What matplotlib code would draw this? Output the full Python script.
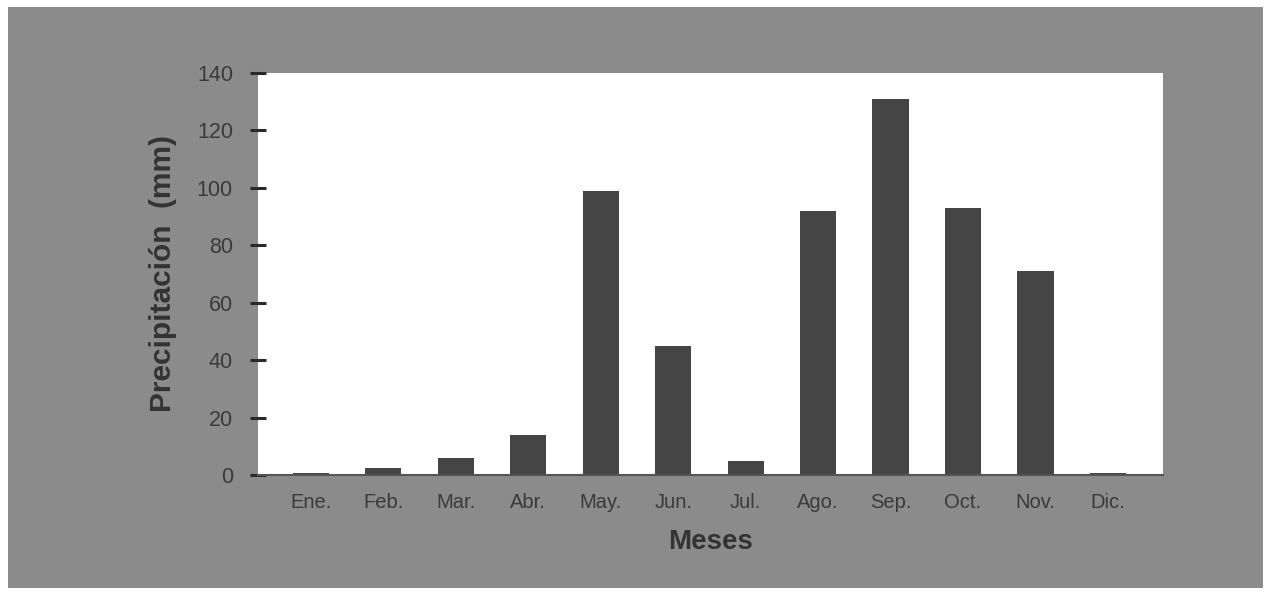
import numpy as np
import matplotlib
matplotlib.use("Agg")
import matplotlib.pyplot as plt
from matplotlib.patches import Rectangle

meses = ["Ene.", "Feb.", "Mar.", "Abr.", "May.", "Jun.", "Jul.", "Ago.", "Sep.", "Oct.", "Nov.", "Dic."]
precip = [0.8, 2.4, 6, 14, 99, 45, 4.8, 92, 131, 93, 71, 0.8]
yticks = [0, 20, 40, 60, 80, 100, 120, 140]

plt.rcParams['font.family'] = ['Liberation Sans', 'DejaVu Sans']

fig = plt.figure(figsize=(12.7, 5.93), dpi=100)
fig.patch.set_facecolor("white")
# gray frame behind the plot
frame = Rectangle((8/1270, 1-588/593), (1263-8)/1270, (588-7)/593,
                  transform=fig.transFigure, facecolor="#8b8b8b",
                  edgecolor="none", zorder=-5)
fig.add_artist(frame)

ax = fig.add_axes([258/1270, 1-475/593, (1163-258)/1270, (475-73)/593])
ax.set_zorder(2)
ax.set_facecolor("white")
x = np.arange(len(meses))
ax.bar(x, precip, width=0.5, color="#454545", zorder=2)

ax.set_xlim(-0.73, 11.76)
ax.set_ylim(0, 140)
ax.set_yticks(yticks)
ax.set_xticks(x)
ax.set_xticklabels(meses, fontsize=14.5, color="#3a3a3a")
ax.set_yticklabels([str(v) for v in yticks], fontsize=15.5, color="#3a3a3a")
ax.tick_params(axis="x", length=0, pad=13)
ax.tick_params(axis="y", direction="inout", length=12, width=2.2, color="#2a2a2a", pad=12)

for s in ["top", "right", "left"]:
    ax.spines[s].set_visible(False)
ax.spines["bottom"].set_color("#555555")
ax.spines["bottom"].set_linewidth(1.5)

ax.set_xlabel("Meses", fontsize=20, fontweight="bold", color="#333333", labelpad=12)
ax.set_ylabel("Precipitación  (mm)", fontsize=21.5, fontweight="bold", color="#333333", labelpad=14)

fig.savefig("out.png", dpi=100, facecolor=fig.get_facecolor())
